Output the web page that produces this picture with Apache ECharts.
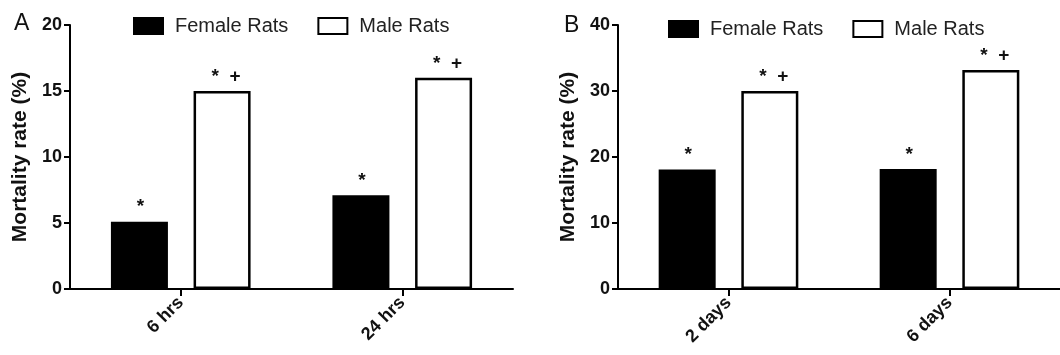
<!DOCTYPE html>
<html><head><meta charset="utf-8">
<script src="https://cdn.jsdelivr.net/npm/echarts@6/dist/echarts.min.js"></script>
<style>html,body{margin:0;padding:0;background:#fff}#c{width:1060px;height:355px}</style>
</head><body><div id="c"></div>
<script>
const categoriesA = ['6 hrs', '24 hrs'];
const categoriesB = ['2 days', '6 days'];
const femaleA = [5.1, 7.1];
const maleA = [15.0, 16.0];
const femaleB = [18.1, 18.2];
const maleB = [30.0, 33.2];
const femaleMarks = ['*', '*'];
const maleMarks = ['*  +', '*  +'];
const seriesNames = ['Female Rats', 'Male Rats'];
const yTitle = 'Mortality rate (%)';

const FONT = 'Liberation Sans, Arial, sans-serif';
const chart = echarts.init(document.getElementById('c'));

function yAxis(gi, max, interval) {
  return {
    type: 'value', gridIndex: gi, min: 0, max: max, interval: interval,
    name: yTitle, nameLocation: 'middle', nameGap: 39,
    nameTextStyle: { fontFamily: FONT, fontWeight: 'bold', fontSize: 21, color: '#111' },
    axisLine: { show: true, lineStyle: { color: '#000', width: 2 } },
    axisTick: { show: true, length: 6, lineStyle: { color: '#000', width: 2 } },
    axisLabel: { fontFamily: FONT, fontWeight: 'bold', fontSize: 18, color: '#111', margin: 8 },
    splitLine: { show: false }
  };
}
function xAxis(gi, cats) {
  return {
    type: 'category', gridIndex: gi, data: cats,
    axisLine: { show: true, lineStyle: { color: '#000', width: 2 } },
    axisTick: { show: true, alignWithLabel: true, length: 7, lineStyle: { color: '#000', width: 2 } },
    axisLabel: { fontFamily: FONT, fontWeight: 'bold', fontSize: 18, color: '#111', rotate: 45, margin: 11 }
  };
}
function labelOf(marks, dx) {
  return {
    show: true, position: 'top', distance: 5, offset: [dx, 0],
    fontFamily: FONT, fontSize: 19, fontWeight: 'bold', color: '#111',
    formatter: p => marks[p.dataIndex]
  };
}
const femaleStyle = { color: '#000', borderColor: '#000', borderWidth: 2 };
const maleStyle = { color: '#fff', borderColor: '#000', borderWidth: 2.5 };
function bars(gi, f, m) {
  return [
    { name: seriesNames[0], type: 'bar', xAxisIndex: gi, yAxisIndex: gi, data: f,
      barWidth: 57, barGap: '45%', itemStyle: femaleStyle, label: labelOf(femaleMarks, 1) },
    { name: seriesNames[1], type: 'bar', xAxisIndex: gi, yAxisIndex: gi, data: m,
      barWidth: 57, barGap: '45%', itemStyle: maleStyle, label: labelOf(maleMarks, 4) }
  ];
}
function legend(left, top) {
  return {
    data: seriesNames, left: left, top: top, itemWidth: 29, itemHeight: 16, itemGap: 29,
    icon: 'rect', selectedMode: false,
    textStyle: { fontFamily: FONT, fontSize: 20, color: '#222', padding: [0, 0, 0, 7] }
  };
}

chart.setOption({
  animation: false,
  title: [
    { text: 'A', left: 9, top: 7, textStyle: { fontFamily: FONT, fontSize: 23, fontWeight: 'normal', color: '#111' } },
    { text: 'B', left: 559, top: 9, textStyle: { fontFamily: FONT, fontSize: 23, fontWeight: 'normal', color: '#111' } }
  ],
  legend: [legend(128, 11), legend(663, 14)],
  grid: [
    { left: 70, width: 443, top: 25, bottom: 66 },
    { left: 618, width: 442, top: 25, bottom: 66 }
  ],
  xAxis: [xAxis(0, categoriesA), xAxis(1, categoriesB)],
  yAxis: [yAxis(0, 20, 5), yAxis(1, 40, 10)],
  series: [...bars(0, femaleA, maleA), ...bars(1, femaleB, maleB)]
});
</script></body></html>
